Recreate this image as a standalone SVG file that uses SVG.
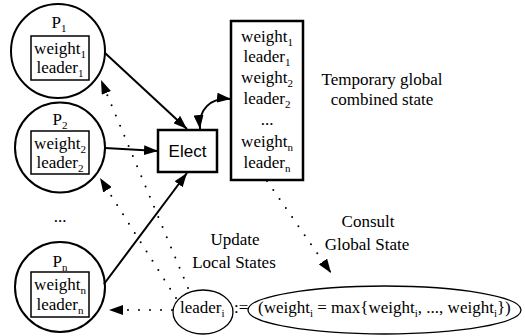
<svg xmlns="http://www.w3.org/2000/svg" width="525" height="336" viewBox="0 0 525 336">
<defs>
<marker id="ah" markerUnits="userSpaceOnUse" markerWidth="14" markerHeight="10" refX="14" refY="5" orient="auto-start-reverse" viewBox="0 0 14 10">
<path d="M0,0 L14,5 L0,10 z" fill="#000" stroke="none"/>
</marker>
<style>
.t{font-size:17px;fill:#000;text-anchor:middle}
.tl{font-size:17px;fill:#000}
.s{font-size:11px}
.circ{fill:none;stroke:#000;stroke-width:2}
.box{fill:none;stroke:#000;stroke-width:1.5}
.bbox{fill:#fff;stroke:#000;stroke-width:2.5}
.sol{fill:none;stroke:#000;stroke-width:2;marker-end:url(#ah)}
.dot{fill:none;stroke:#000;stroke-width:2;stroke-linecap:round;stroke-dasharray:0 11;marker-end:url(#ah)}
.ell{fill:none;stroke:#000;stroke-width:1.3}
</style>
</defs>

<g id="connectors">
<path class="sol" d="M105 53 L187 129"/>
<path class="sol" d="M105 148 L158 151"/>
<path class="sol" d="M104 284 L187 173"/>
<path class="sol" d="M200 129 C198 110 210 97 231 99" style="marker-start:url(#ah)"/>
<path class="dot" d="M188 288 L101 80"/>
<path class="dot" d="M176 298 L100 178"/>
<path class="dot" d="M172 310 L109 310"/>
<path class="dot" d="M267 181 L331 273"/>
</g>

<g font-family="Liberation Serif, Times New Roman, serif">
<g id="p1">
<circle class="circ" cx="58" cy="51" r="47"/>
<rect class="box" x="31" y="36" width="58" height="44"/>
<text class="t" x="59" y="28">P<tspan class="s" dy="4">1</tspan></text>
<text class="t" x="60" y="54">weight<tspan class="s" dy="4">1</tspan></text>
<text class="t" x="60" y="73">leader<tspan class="s" dy="4">1</tspan></text>
</g>

<g id="p2">
<circle class="circ" cx="60" cy="147.5" r="45"/>
<rect class="box" x="31" y="131" width="58" height="43"/>
<text class="t" x="60" y="125">P<tspan class="s" dy="4">2</tspan></text>
<text class="t" x="60" y="149">weight<tspan class="s" dy="4">2</tspan></text>
<text class="t" x="60" y="168">leader<tspan class="s" dy="4">2</tspan></text>
</g>

<g id="ellipsis">
<text class="t" x="60" y="222">...</text>
</g>

<g id="pn">
<circle class="circ" cx="60" cy="287" r="45"/>
<rect class="box" x="31" y="272" width="58" height="45"/>
<text class="t" x="60" y="267">P<tspan class="s" dy="4">n</tspan></text>
<text class="t" x="60" y="290">weight<tspan class="s" dy="4">n</tspan></text>
<text class="t" x="60" y="310">leader<tspan class="s" dy="4">n</tspan></text>
</g>

<g id="elect">
<rect class="bbox" x="158" y="130" width="59" height="42"/>
<text x="187.5" y="157" font-family="Liberation Sans, Arial, sans-serif" font-size="17" text-anchor="middle">Elect</text>
</g>

<g id="state">
<rect class="bbox" x="231" y="21" width="72" height="159"/>
<text class="t" x="267" y="42">weight<tspan class="s" dy="4">1</tspan></text>
<text class="t" x="267" y="62">leader<tspan class="s" dy="4">1</tspan></text>
<text class="t" x="267" y="83">weight<tspan class="s" dy="4">2</tspan></text>
<text class="t" x="267" y="104">leader<tspan class="s" dy="4">2</tspan></text>
<text class="t" x="267" y="125">...</text>
<text class="t" x="267" y="147">weight<tspan class="s" dy="4">n</tspan></text>
<text class="t" x="267" y="168">leader<tspan class="s" dy="4">n</tspan></text>
</g>

<g id="label-temp">
<text class="t" x="382" y="85">Temporary global</text>
<text class="t" x="382" y="105">combined state</text>
</g>

<g id="label-consult">
<text class="t" x="368" y="227">Consult</text>
<text class="t" x="367" y="250">Global State</text>
</g>

<g id="label-update">
<text class="t" x="235" y="245">Update</text>
<text class="t" x="234" y="268">Local States</text>
</g>

<g id="formula">
<ellipse class="ell" cx="203" cy="312" rx="30" ry="22"/>
<text class="tl" x="180" y="313">leader<tspan class="s" dy="4">i</tspan></text>
<text class="tl" x="234" y="313">:=</text>
<ellipse class="ell" cx="384.5" cy="310" rx="136.5" ry="24"/>
<text class="tl" x="258" y="313">(weight<tspan class="s" dy="4">i</tspan><tspan dy="-4"> = max{weight</tspan><tspan class="s" dy="4">i</tspan><tspan dy="-4">, ..., weight</tspan><tspan class="s" dy="4">i</tspan><tspan dy="-4">})</tspan></text>
</g>
</g>
</svg>
